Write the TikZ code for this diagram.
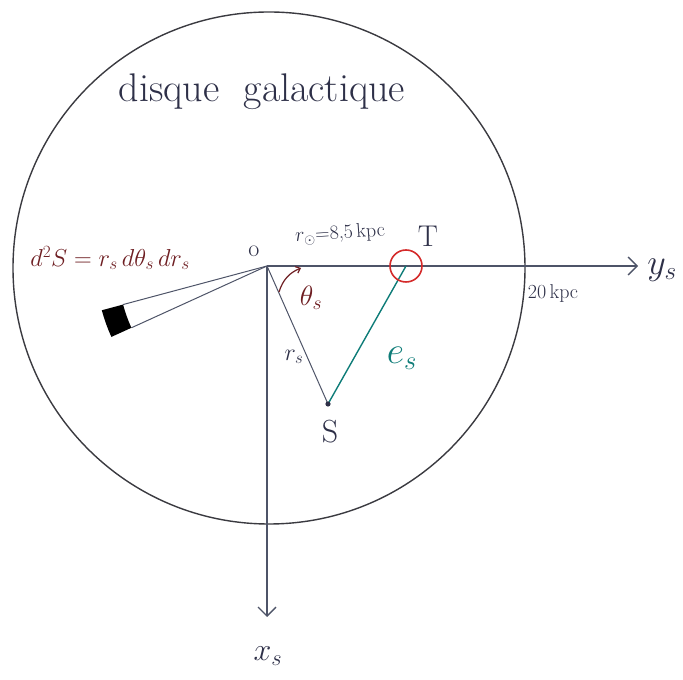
\RequirePackage{fix-cm}
\documentclass[tikz,border=0pt]{standalone}
\usepackage{fontspec}
\usetikzlibrary{arrows.meta,calc}
\definecolor{axisc}{HTML}{4E5468}
\definecolor{circc}{HTML}{3A3A40}
\definecolor{tealc}{HTML}{0E7C78}
\definecolor{redc}{HTML}{D42A2A}
\definecolor{maroon}{HTML}{6E1E22}
\definecolor{inkc}{HTML}{2E3048}
\begin{document}
\begin{tikzpicture}[x=1pt,y=1pt,
  axisline/.style={draw=axisc, line width=1.3pt,
    -{Straight Barb[length=9pt,width=18pt,line width=1.3pt]}},
  thinline/.style={draw=axisc, line width=1pt},
  lbl/.style={inner sep=0pt, text=inkc},
  smalllbl/.style={lbl, font=\fontsize{20}{22}\selectfont}]
\useasboundingbox (0,0) rectangle (683,680);
% main points
\coordinate (O) at (267,414);
\coordinate (C) at (269,412);
\coordinate (S) at (328,276);
\coordinate (T) at (406,414);
\coordinate (Yend) at (638,414);
\coordinate (Xend) at (267,63);
% galactic disc
\draw[circc, line width=1.4pt] (C) circle[radius=256];
% axes
\draw[axisline] (O) -- (Yend);
\draw[axisline] (O) -- (Xend);
% wedge element
\coordinate (W1) at ($(O)+(195:149)$);
\coordinate (W2) at ($(O)+(204.5:149)$);
\draw[thinline] (O) -- (W1);
\draw[thinline] (O) -- (W2);
\fill[black] (W1) arc[start angle=195, end angle=204.5, radius=149]
  -- ($(O)+(204.5:171)$) arc[start angle=204.5, end angle=195, radius=171] -- cycle;
% r_s and e_s
\draw[thinline] (O) -- (S);
\draw[tealc, line width=1.4pt] (S) -- (T);
\fill[inkc] (S) circle[radius=2.6];
% T marker
\draw[redc, line width=1.6pt] (T) circle[radius=16];
% theta arrow
\coordinate (Ta) at (279,388);
\coordinate (Tb) at (301,412);
\draw[maroon, line width=1.2pt, -{Straight Barb[length=4pt,width=7pt]}] (Ta) to[bend left=25] (Tb);
% labels
\node[lbl, font=\fontsize{40}{44}\selectfont] (title) at (262,588) {disque\hspace{0.6em}galactique};
\node[lbl, font=\fontsize{24}{26}\selectfont] (Olbl) at (254,429) {o};
\node[smalllbl, rotate=4] (rsun) at (340,446) {$r_{\odot}$=8,5\,kpc};
\node[lbl, font=\fontsize{30}{34}\selectfont] (Tlbl) at (428,444) {T};
\node[lbl, font=\fontsize{32}{36}\selectfont] (Slbl) at (330,248) {S};
\node[lbl, font=\fontsize{24}{28}\selectfont] (rslbl) at (294,323) {$r_s$};
\node[lbl, text=tealc, font=\fontsize{38}{42}\selectfont] (eslbl) at (402,322) {$e_s$};
\node[lbl, text=maroon, font=\fontsize{28}{32}\selectfont] (thlbl) at (311,382) {$\theta_s$};
\node[smalllbl] (kpc20) at (553,386) {20\,kpc};
\node[lbl, text=maroon, font=\fontsize{24.5}{28}\selectfont] (dS) at (110,422) {$d^2S = r_s\,d\theta_s\,dr_s$};
\node[lbl, font=\fontsize{36}{40}\selectfont] (ylbl) at (662,410) {$y_s$};
\node[lbl, font=\fontsize{32}{36}\selectfont] (xlbl) at (268,24) {$x_s$};
\end{tikzpicture}
\end{document}
